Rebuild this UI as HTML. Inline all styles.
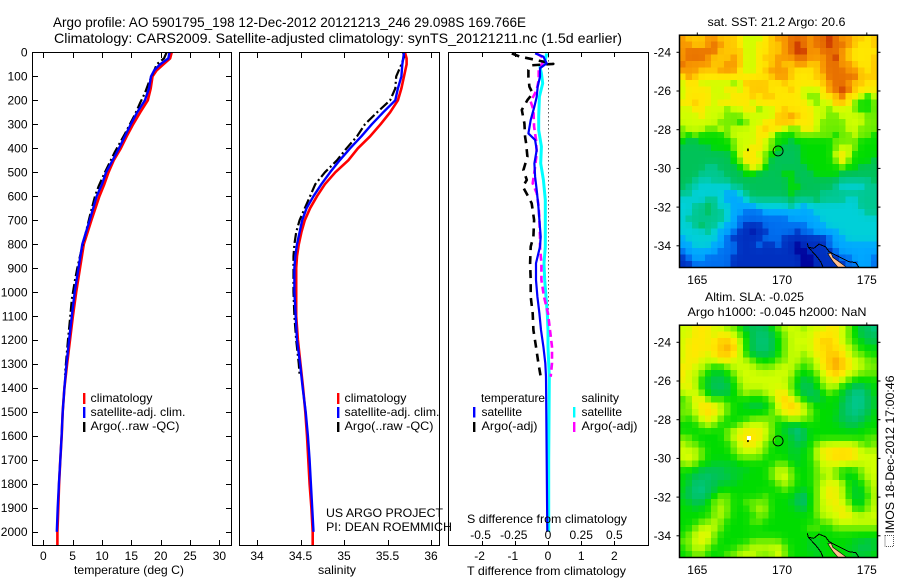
<!DOCTYPE html>
<html lang="en">
<head>
<meta charset="utf-8">
<title>Argo profile 5901795_198</title>
<style>
html,body{margin:0;padding:0;background:#fff;}
svg{display:block;}
text{font-family:"Liberation Sans",sans-serif;font-size:12px;fill:#000;}
.t{font-size:14px;}
</style>
</head>
<body>
<svg id="chart" xmlns="http://www.w3.org/2000/svg" width="900" height="580" viewBox="0 0 900 580">
  <rect x="0" y="0" width="900" height="580" fill="#fff"/>
  <text class="t" x="53" y="27" textLength="473" lengthAdjust="spacingAndGlyphs">Argo profile: AO 5901795_198 12-Dec-2012 20121213_246 29.098S 169.766E</text>
  <text class="t" x="54" y="43" textLength="568" lengthAdjust="spacingAndGlyphs">Climatology: CARS2009. Satellite-adjusted climatology: synTS_20121211.nc (1.5d earlier)</text>

  <g id="traces"></g>
  <g id="maps"></g>

  <rect x="32.5" y="52.5" width="199" height="493" fill="none" stroke="#000" stroke-width="1" shape-rendering="crispEdges"/>
  <rect x="239.5" y="52.5" width="200" height="493" fill="none" stroke="#000" stroke-width="1" shape-rendering="crispEdges"/>
  <rect x="448.5" y="52.5" width="200" height="493" fill="none" stroke="#000" stroke-width="1" shape-rendering="crispEdges"/>
  <g id="axes"></g>

  <text x="74" y="574" textLength="110" lengthAdjust="spacingAndGlyphs">temperature (deg C)</text>
  <text x="318" y="574" textLength="38" lengthAdjust="spacingAndGlyphs">salinity</text>
  <text x="467" y="575" textLength="159" lengthAdjust="spacingAndGlyphs">T difference from climatology</text>
  <text x="467" y="523" textLength="160" lengthAdjust="spacingAndGlyphs">S difference from climatology</text>

  <g>
    <rect x="83" y="393" width="2.4" height="11" fill="#f00"/>
    <rect x="83" y="407" width="2.4" height="11" fill="#00f"/>
    <rect x="83" y="422" width="2.4" height="10" fill="#000"/>
    <text x="90.5" y="402" textLength="62" lengthAdjust="spacingAndGlyphs">climatology</text>
    <text x="90.5" y="416" textLength="95" lengthAdjust="spacingAndGlyphs">satellite-adj. clim.</text>
    <text x="90.5" y="430" textLength="89" lengthAdjust="spacingAndGlyphs">Argo(..raw -QC)</text>
  </g>
  <g>
    <rect x="337" y="393" width="2.4" height="11" fill="#f00"/>
    <rect x="337" y="407" width="2.4" height="11" fill="#00f"/>
    <rect x="337" y="422" width="2.4" height="10" fill="#000"/>
    <text x="344.5" y="402" textLength="62" lengthAdjust="spacingAndGlyphs">climatology</text>
    <text x="344.5" y="416" textLength="95" lengthAdjust="spacingAndGlyphs">satellite-adj. clim.</text>
    <text x="344.5" y="430" textLength="89" lengthAdjust="spacingAndGlyphs">Argo(..raw -QC)</text>
  </g>
  <g>
    <text x="481" y="402" textLength="64" lengthAdjust="spacingAndGlyphs">temperature</text>
    <rect x="473" y="407" width="2.4" height="10.5" fill="#00f"/>
    <rect x="473" y="422" width="2.4" height="10" fill="#000"/>
    <text x="481.5" y="416" textLength="40.5" lengthAdjust="spacingAndGlyphs">satellite</text>
    <text x="481.5" y="430" textLength="56" lengthAdjust="spacingAndGlyphs">Argo(-adj)</text>
    <text x="581.5" y="402" textLength="37.5" lengthAdjust="spacingAndGlyphs">salinity</text>
    <rect x="573" y="407" width="2.4" height="10.5" fill="#0ff"/>
    <rect x="573" y="422" width="2.4" height="10" fill="#f0f"/>
    <text x="581.5" y="416" textLength="40.5" lengthAdjust="spacingAndGlyphs">satellite</text>
    <text x="581.5" y="430" textLength="56" lengthAdjust="spacingAndGlyphs">Argo(-adj)</text>
  </g>

  <text x="326" y="517" textLength="117" lengthAdjust="spacingAndGlyphs">US ARGO PROJECT</text>
  <text x="326" y="531" textLength="126" lengthAdjust="spacingAndGlyphs">PI: DEAN ROEMMICH</text>

  <text x="707.5" y="26" textLength="138" lengthAdjust="spacingAndGlyphs">sat. SST: 21.2 Argo: 20.6</text>
  <text x="705" y="301" textLength="99" lengthAdjust="spacingAndGlyphs">Altim. SLA: -0.025</text>
  <text x="687.5" y="316" textLength="179" lengthAdjust="spacingAndGlyphs">Argo h1000: -0.045 h2000: NaN</text>

  <rect x="885" y="535.5" width="8.5" height="11" fill="none" stroke="#555" stroke-width="1" stroke-dasharray="1 1"/>
  <text transform="translate(894,533.5) rotate(-90)" textLength="158" lengthAdjust="spacingAndGlyphs">IMOS 18-Dec-2012 17:00:46</text>
</svg>

<script>
// ---------- profile data ----------
const tempClimDepth = [0,25,50,75,100,150,200,250,300,350,400,450,500,550,600,700,800,900,1000,1100,1200,1300,1400,1500,1600,1700,1800,1900,2000,2055];
const tempClim = [21.87,21.6,20.45,19.3,18.6,18.3,17.8,16.5,15.3,14.2,13.2,12.0,11.1,10.4,9.55,8.2,6.9,6.25,5.6,5.05,4.55,4.05,3.6,3.3,3.13,2.9,2.7,2.55,2.4,2.4];
const tempSatDepth = [0,25,50,75,100,150,200,250,300,350,400,450,500,550,600,700,800,900,1000,1100,1200,1300,1400,1500,1600,1700,1800,1900,2000];
const tempSat = [21.5,21.3,19.9,18.9,18.35,18,17.3,16,14.9,13.9,12.9,11.8,10.7,10,9.1,7.9,6.65,6,5.35,4.85,4.4,3.95,3.6,3.3,3.12,2.9,2.65,2.45,2.3];
const tempArgoDepth = [0,25,50,70,100,130,170,210,260,340,415,500,560,600,680,750,850,900,950,1030,1100,1200,1300,1345];
const tempArgo = [21,20.56,19.3,19,18.45,17.9,17.3,16.5,15.6,13.9,12.2,10.5,9.4,8.8,7.95,7.25,6.25,5.8,5.4,4.85,4.6,4.2,3.85,3.7];

const salClimDepth = [0,25,50,100,150,200,250,300,350,400,450,500,550,600,650,700,750,800,850,900,1000,1100,1200,1300,1400,1500,1600,1700,1800,1900,2000,2055];
const salClim = [35.7,35.72,35.72,35.69,35.66,35.62,35.53,35.42,35.3,35.16,35.05,34.9,34.78,34.69,34.61,34.55,34.51,34.48,34.46,34.45,34.45,34.45,34.47,34.5,34.53,34.555,34.575,34.59,34.605,34.625,34.64,34.64];
const salSatDepth = [0,25,50,100,150,200,250,300,350,400,450,500,550,600,650,700,750,800,850,900,1000,1100,1200,1300,1400,1500,1600,1700,1800,1900,2000];
const salSat = [35.69,35.68,35.67,35.66,35.62,35.59,35.45,35.32,35.2,35.07,34.95,34.84,34.74,34.65,34.57,34.52,34.49,34.46,34.44,34.43,34.43,34.445,34.46,34.495,34.525,34.56,34.585,34.605,34.62,34.635,34.65];
const salArgoDepth = [0,20,50,100,150,200,250,300,350,400,450,500,550,600,650,700,750,800,850,900,1000,1100,1200,1300,1345];
const salArgo = [35.68,35.69,35.66,35.6,35.59,35.53,35.38,35.24,35.15,35.03,34.92,34.78,34.67,34.61,34.55,34.49,34.45,34.43,34.42,34.42,34.42,34.43,34.45,34.48,34.49];

const tDiffSatDepth = [4,18,46,66,101,143,185,226,282,338,365,407,463,518,574,644,699,769,810,880,950,1019,1089,1158,1228,1297,1353,1700,2000];
const tDiffSat = [-0.39,-0.14,-0.04,-0.24,-0.24,-0.31,-0.34,-0.41,-0.52,-0.59,-0.39,-0.34,-0.41,-0.39,-0.34,-0.29,-0.26,-0.22,-0.24,-0.36,-0.36,-0.32,-0.26,-0.21,-0.14,-0.08,-0.06,-0.04,-0.02];
const tDiffArgoDepth = [4,18,29,48,54,73,101,143,171,199,240,296,352,379,435,491,532,560,595,630,699,769,810,880,950,1019,1089,1158,1228,1297,1353];
const tDiffArgo = [-1.09,-0.84,-0.44,0.16,-0.49,-0.59,-0.59,-0.56,-0.46,-0.62,-0.79,-0.71,-0.69,-0.66,-0.62,-0.74,-0.64,-0.76,-0.62,-0.49,-0.42,-0.44,-0.52,-0.54,-0.52,-0.52,-0.46,-0.44,-0.36,-0.29,-0.22];
const sDiffSatDepth = [4,32,60,87,129,185,268,324,393,463,532,615,699,769,810,880,950,1019,1089,1158,1228,1297,1353,1700,2000];
const sDiffSat = [-0.01,-0.02,-0.06,-0.05,-0.04,-0.065,-0.07,-0.07,-0.05,-0.055,-0.035,-0.02,-0.02,-0.02,-0.02,-0.03,-0.025,-0.015,-0.005,0,0,0.005,0.01,0.005,0.005];
const sDiffArgoDepth = [4,25,38,73,115,157,205,240,310,365,421,490,546,587,643,699,769,810,880,950,1019,1089,1158,1228,1297,1353];
const sDiffArgo = [-0.085,-0.03,-0.035,-0.07,-0.07,-0.085,-0.13,-0.11,-0.105,-0.09,-0.085,-0.1,-0.115,-0.085,-0.07,-0.065,-0.06,-0.06,-0.05,-0.05,-0.03,0,0.015,0.03,0.03,0.02];

// ---------- tick labels ----------
const depthTicks = [0,100,200,300,400,500,600,700,800,900,1000,1100,1200,1300,1400,1500,1600,1700,1800,1900,2000];
const tempTicks = [0,5,10,15,20,25,30];
const salTicks = [34,34.5,35,35.5,36];
const tDiffTicks = [-2,-1,0,1,2];
const sDiffTicks = [-0.5,-0.25,0,0.25,0.5];
const sDiffTickLabels = ['-0.5','-0.25','0','0.25','0.5'];
const latTicks = [-24,-26,-28,-30,-32,-34];
const lonTicks = [165,170,175];

// ---------- map data ----------
const floatLon = 169.766;
const floatLat = -29.098;
const neighbourLon = 168;
const neighbourLat = -29;
const coastWestLon = [171.49,171.55,171.98,172.28,172.42];
const coastWestLat = [-33.87,-34.08,-34.48,-34.82,-35.11];
const coastNorthLon = [171.55,171.88,172.18,172.57,172.77,173.16,173.55,173.95,174.35,174.54];
const coastNorthLat = [-34.08,-34.13,-33.91,-34.05,-34.3,-34.48,-34.65,-34.82,-34.87,-35.11];
const landLon = [172.7,172.9,173.0,173.4,173.8,173.3,173.0,172.8];
const landLat = [-34.4,-34.38,-34.6,-34.85,-35.11,-35.11,-34.8,-34.55];

// colour levels (0 navy ... 14 red-brown), one row per grid line, north to south
const sstLevels = [
[12,11,11,11,12,12,11,11,11,10,9,9,9,10,11,12,12,13,13,13,12,13,13,14,13,12,12,11,11,10,11],
[12,12,11,11,12,13,12,11,11,10,9,9,10,10,11,11,12,13,14,13,12,13,13,14,13,13,12,11,10,10,11],
[12,13,13,13,13,13,11,11,11,11,9,9,10,10,11,11,12,13,14,14,12,12,13,13,13,12,11,10,10,10,10],
[12,13,13,13,12,11,11,11,12,11,9,9,10,11,11,12,12,12,13,13,12,12,12,13,14,12,11,10,10,10,11],
[13,12,12,12,12,11,11,12,12,11,9,9,10,10,11,12,11,11,12,12,11,11,12,13,13,12,12,11,10,10,11],
[12,12,12,11,11,11,12,12,12,10,9,9,10,11,12,12,12,11,10,10,10,11,12,13,13,13,12,12,11,10,11],
[10,12,11,10,10,10,10,10,10,10,10,10,10,10,11,12,12,11,10,10,10,11,11,13,13,13,13,13,11,11,11],
[9,10,10,9,9,9,9,9,8,9,11,11,11,11,10,10,11,10,10,10,10,10,11,12,13,13,12,11,11,10,10],
[9,10,10,10,10,9,9,10,10,9,10,11,11,11,10,10,10,11,10,9,9,9,10,12,13,14,13,11,10,10,10],
[9,10,10,10,10,9,9,9,10,10,10,11,10,11,11,10,10,10,10,9,8,8,10,10,11,13,10,10,9,7,9],
[10,10,11,10,10,9,10,10,10,10,10,9,10,10,10,10,10,10,10,10,9,8,9,9,11,11,10,8,7,7,8],
[9,9,10,10,9,9,9,8,9,9,10,10,8,9,9,10,11,10,10,10,10,9,9,8,9,9,9,8,7,7,8],
[9,9,9,10,9,9,9,8,8,8,9,9,9,9,9,11,11,12,11,10,10,9,9,8,8,9,9,9,9,8,8],
[9,9,9,9,9,9,8,8,8,7,8,9,9,10,10,11,11,11,10,10,10,9,8,8,8,8,9,9,9,8,8],
[8,9,9,9,8,8,9,8,9,9,9,9,10,11,10,10,9,8,8,10,10,9,8,8,8,8,9,9,8,8,8],
[8,7,8,7,7,7,7,8,9,9,9,9,10,10,9,7,7,7,8,8,8,8,8,8,7,8,8,9,8,8,7],
[7,6,6,7,7,7,7,7,8,9,9,9,10,9,8,7,7,6,7,7,7,7,7,7,8,8,8,8,7,7,7],
[6,6,6,6,6,7,7,7,8,9,9,10,10,9,8,7,6,6,6,7,7,7,7,7,8,9,9,8,7,7,7],
[6,6,6,6,6,6,6,6,7,9,10,10,9,8,7,6,6,6,6,7,7,7,7,7,9,10,9,7,7,7,7],
[6,6,6,6,6,6,6,6,7,8,10,10,10,8,6,6,6,6,6,7,7,7,7,7,8,10,8,7,7,7,6],
[6,6,6,6,5,5,6,6,6,7,8,10,9,7,6,6,6,6,6,6,7,7,7,7,7,8,7,7,6,6,6],
[6,6,6,5,5,5,5,6,6,6,7,7,6,6,6,6,7,7,6,6,6,7,7,7,7,6,6,6,6,6,6],
[6,6,5,4.5,4.5,5,5,5,6,6,6,6,6,6,6,6,6,7,6,6,6,6,6,6,6,5,5,5,5,5,6],
[6,5,4.5,4,4,4,4,4,5,5,6,6,6,6,6,6,6,7,7,6,6,6,6,6,5,4,4,4,4,5,5],
[5,5,4,4,4,4,4,3,3,4,5,6,6,6,6,6,6,7,6,6,6,6,5,5,5,5,5,5,5,5,5],
[4,4,4,4,5,5,4,3,3,3,4,5,5,5,5,5,5,6,5,5,5,6,5,5,5,5,4,4,5,5,5],
[4,4,5,5,6,5,4,4,3,3,3,3,4,4,4,4,4,5,4,3,4,4,4,4,4,4,4,4,5,5,5],
[4,4,5,5,6,5,5,4,3,3,2,2,2,3,3,3,3,3,3,3,3,4,4,4,4,4,4,4,4,5,5],
[4,5,5,5,5,5,5,4,3,2,2,2,2,2,2,2,2,3,3,3,3,3,4,4,4,4,4,4,4,4,4],
[4,4,5,6,5,5,4,3,3,2,1,1,1,2,2,2,2,2,2,2,3,3,3,4,4,4,4,4,4,4,4],
[4,4,4,4,5,4,3,3,2,1,1,0.5,1,1,2,2,2,2,1,2,2,3,3,3,3,4,4,4,4,4,4],
[3,4,4,4,4,4,3,2,1,1,1,1,1,2,2,2,1,1,1,1,1,1,1,2,3,3,4,4,4,4,4],
[3,3,4,4,4,3,3,2,2,1,1,1,2,1,1,2,1,1,0,1,1,1,1,2,3,3,3,3,3,3,3],
[2,3,3,3,3,3,2,2,2,1,1,1,1,1,1,1,1,1,0,0,1,1,1,1,2,3,3,3,3,3,3],
[1,2,3,3,2,2,2,2,1,1,1,1,1,1,1,1,1,1,1,0,0,1,1,1,1,2,2,3,3,3,2],
[1,1,2,2,2,2,2,2,1,1,1,1,1,1,1,1,1,1,1,0,0,1,1,1,1,1,2,2,3,3,2]
];
const slaLevels = [
[9,9,10,10,10,9,9,8,8,7,6,6,6,6,7,8,9,9,9,8,9,9,9,10,10,9,8,7,6,6,5],
[9,9,10,10,10,9,10,10,9,8,7,6,5.5,5.5,6,7,8,9,9,9,9,10,10,10,10,9,8,7,6,6,6],
[9,10,10,10,9.5,10,11,11,10,9,7,6,5.5,5.5,6,7,8,9,9,9,9,10,11,11,10,9,8,7,7,6,6],
[9,10,10,10,10,10,11,12,11,9,7,6,5.5,5.5,6,7,8,9,9,9,9,10,10,11,10,10,9,8,7,7,7],
[9,10,10,10,9,10,11,11,10,9,7,6,6,6,6,7,8,9,9,8,9,10,10,11,11,10,9,8,8,7,7],
[9,10,10,9,9,9,10,10,9,9,9,8,7,7,7,8,8,9,9,8,8,9,10,11,12,11,10,9,9,8,8],
[10,10,9,9,8,7,7,8,9,9,9,9,8,8,8,9,9,9,8,7,8,9,10,11,12,11,10,9,9,8,8],
[10,9,9,8,7,6.5,6.5,7,8,9,9,9,9,9,9,9,9,9,7,7,7,8,9,10,11,10,9,9,8,8,8],
[10,9,9,7,6.5,6,6,6.5,7,9,9,9,9,9,9,9,9,8,7,6,6.5,7,9,9,10,9,8,7,7,7,7],
[9,10,9,7,6.5,6,6,6,7,8,9,9,9,9,9,9,9,8,6.5,6,6,7,8,9,9,7,6.5,6,6,6.5,7],
[9,9,9,8,6.5,6,6,6,7,8,9,8,8,9,9,10,10,8,7,6,6,6,7,8,7,6.5,6,5,5,6,7],
[7,8,10,10,8,7,8,7,7,7,7,7,7,7,8,10,11,10,8,7,6,6,6.5,7,7,6.5,5.5,5,5,6,6.5],
[8,8,9,10,10.5,10,9,8,7,7,6.5,6,6,6.5,7,9,10,11,10.5,9,8,7,7,7,7,6,5.5,5,5,6,6.5],
[8,8,9,10,10.5,10,9,8,7,7,7,7,7,7,8,9,10,10,10,9,8,7,7,7,7,6,5.5,5,5.5,6,7],
[8,7,8,9,10,9,8,7,7,7,7,8,8,8,8,7,8,9,9,8,8,7,7,7,6.5,6,6,5.5,6,6.5,7],
[7,7,7,8,9,8,7,7,7,8,9,9,9,9,8,7,6.5,6,6,7,7,7,7,7,7,6.5,6,6,6.5,7,7],
[7,7,7,7,7,7,7,8,9,9.5,10,10,10,9,8,7,6.5,6,5,6,7,7,7,7,7,7,7,7,7,7,7],
[8,8,7,7,7,7,7,8,9,10,10,10,10,9,8,7,7,6.5,5.5,6,7,7,7,7,7,7,7,7,7,8,8],
[9,8,8,7,7,7,7,7,8,9,10,10,9,8,7,7,7,6.5,6,6.5,7,8,9,9,9,9,9,9,8,7,8],
[9,9,9,8,7,7,7,7,8,9,9,9,9,8,7,7,7,6.5,6.5,7,7,9,10,10,10.5,10.5,10.5,10,9,9,9],
[9,9.5,9,8,7,7,7,7,7,8,8,8,8,7,7,7,7,6.5,6.5,7,7,9,9.5,10,10.5,10.5,10.5,10,9,9,9],
[8,9,8,7,7,6.5,6.5,6.5,6.5,7,7,7,7,7,7,8,8,7,6.5,7,7,8,9,9,9.5,9,9,9,9,9,9],
[7,7,6.5,6,6,6,6,6.5,6.5,6.5,6.5,7,7,7,8,9,9,8,7,7,7,8,9,9,8,7,7,7,8,9,9],
[7,6.5,6,6,5.5,6,6,6,6.5,6.5,7,7,7,7,8,9,9.5,8,7,7,7,8,8,9,8,7,6.5,7,8,9,9],
[7,6.5,5.5,5.5,6,6,6.5,6.5,6.5,7,7,7,7,7,7,8,9,8,7,7,7,8,9,9.5,9.5,9,7,6.5,7,8,9],
[7,6,5.5,5,6,6,7,7,7,7,7,7,7,7,7,7,8,7,7,6.5,7,8,9,10,9.5,9,7,6.5,6.5,8,9],
[6.5,6,5.5,5.5,6,7,8,8,7,7,7,7,7,8,7,7,7,7,6,5.5,7,8,9,10,9.5,9,7,6.5,6.5,7,9],
[7,6.5,6,6,7,8,8.5,8,7,7,8,8,8,8,7,7,7,6.5,6,5.5,7,8,9,9.5,10,9,8,6.5,6.5,8,9],
[7,7,6.5,7,7,8,9,8,7,7,7,8,9,8.5,7,7,7,7,6.5,6,7,8,9,9,9.5,10,9,7,7,8,9],
[7,7,7,7,7,8,9,8,7,7,7,7,8,8,7,7,7,7,7,7,7,8,9,9,9,10,10,9,9,9,9],
[7,7,7,8,8,9,8,7,7,7,7,8,8,7,7,7,7,7,7,7,7,7,8,8,9,9,9,9,9,9,9],
[7,7,8,9,9,9,8,7,7,7,7,7,7,7,7,7,7,7,7,7,8,8,7,7,8,8,8,8,8,8,8],
[7,8,9,9.5,9.5,8,7,7,7,7,7,7,7,7,7,7,7,7,7,7,7,7,7,7,7,7,7,7,7,7,7],
[8,8,9,9.5,9,8,7,7,7,7,7,8,8,8,8,8,7,7,7,7,6.5,6.5,7,7,7,7,7,6.5,6.5,6,6.5],
[7,8,9,9,8,7,7,7,7,8,8,9,9,9,9,9.5,8,7,7,7,6.5,6.5,7,7,7,7,6.5,6.5,6,6,6.5],
[7,7,8,8,7,7,7,8,8,9,9,9,8,8,8,9.5,8,7,7,7,7,6.5,7,7,7,7,7,6.5,6.5,6.5,7]
];

// ---------- scales ----------
const yDepth = d => 52.4 + d * 0.2397;
const xTemp = t => 43.3 + t * 5.87;
const xSal = s => 257 + (s - 34) * 87;
const xTDiff = v => 548 + v * 33.2;
const xSDiff = v => 548 + v * 132.8;
const mapX = lon => 697.3 + (lon - 165) * 16.95;
const mapY = (lat, top) => top + 17.3 + (-24 - lat) * 19.35;

const NS = 'http://www.w3.org/2000/svg';
const paletteStops = ['#00009a','#0030c0','#0070f0','#00a8ff','#00d0d8','#00c890','#00c258','#00dc00','#70ee00','#d0ff00','#ffe800','#ffc800','#f89800','#e87000','#c83000'];
function rgb(hex){return [1,3,5].map(i=>parseInt(hex.substr(i,2),16));}
function levelColor(v){
  const i=Math.max(0,Math.min(13,Math.floor(v)));
  const f=Math.max(0,Math.min(1,v-i));
  const a=rgb(paletteStops[i]),b=rgb(paletteStops[i+1]);
  return 'rgb('+a.map((c,k)=>Math.round(c+(b[k]-c)*f)).join(',')+')';
}
function smoothGrid(levels,w){
  return levels.map((row,r)=>row.map((v,c)=>{
    let s=0,n=0;
    for(let dr=-1;dr<=1;dr++){
      for(let dc=-1;dc<=1;dc++){
        const rr=levels[r+dr];
        if(rr&&rr[c+dc]!==undefined){
          const k=(dr===0?2:1)*(dc===0?2:1);
          s+=rr[c+dc]*k;n+=k;
        }
      }
    }
    return v*(1-w)+w*s/n;
  }));
}
function mk(tag,attrs,parent,txt){
  const el=document.createElementNS(NS,tag);
  for(const k in attrs) el.setAttribute(k,attrs[k]);
  if(txt!==undefined) el.textContent=txt;
  parent.appendChild(el);
  return el;
}
const traces=document.getElementById('traces');
const axes=document.getElementById('axes');
const maps=document.getElementById('maps');

function series(depths,values,xFn,color,width,dash,name){
  const pts=depths.map((d,i)=>xFn(values[i]).toFixed(1)+','+yDepth(d).toFixed(1)).join(' ');
  const el=mk('polyline',{points:pts,fill:'none',stroke:color,'stroke-width':width,'stroke-dasharray':dash||'none','stroke-linejoin':'round'},traces);
  
  
}

// zero line in the difference panel
const zeroLine=mk('line',{x1:xTDiff(0)+0.5,x2:xTDiff(0)+0.5,y1:yDepth(0),y2:yDepth(2000),stroke:'#000','stroke-width':1,'stroke-dasharray':'1 3'},traces);



series(tempClimDepth,tempClim,xTemp,'#f00',2.6,'','temperature-climatology-line');
series(tempArgoDepth,tempArgo,xTemp,'#000',2.2,'10 3 2 3','temperature-argo-line');
series(tempSatDepth,tempSat,xTemp,'#00f',2.4,'','temperature-satellite-line');
series(salClimDepth,salClim,xSal,'#f00',2.6,'','salinity-climatology-line');
series(salArgoDepth,salArgo,xSal,'#000',2.2,'10 3 2 3','salinity-argo-line');
series(salSatDepth,salSat,xSal,'#00f',2.4,'','salinity-satellite-line');
series(sDiffSatDepth,sDiffSat,xSDiff,'#0ff',3,'','salinity-satellite-difference-line');
series(sDiffArgoDepth,sDiffArgo,xSDiff,'#f0f',2.6,'7 4','salinity-argo-difference-line');
series(tDiffArgoDepth,tDiffArgo,xTDiff,'#000',2.6,'8 6','temperature-argo-difference-line');
series(tDiffSatDepth,tDiffSat,xTDiff,'#00f',2.2,'','temperature-satellite-difference-line');

// axes
function tick(x1,y1,x2,y2,name){
  const el=mk('line',{x1:x1,y1:y1,x2:x2,y2:y2,stroke:'#000','stroke-width':1,'shape-rendering':'crispEdges'},axes);
  
  
}
function label(x,y,anchor,str,name){
  const el=mk('text',{x:x,y:y,'text-anchor':anchor},axes,str);
  
  
  return el;
}
depthTicks.forEach(d=>{
  const y=Math.round(yDepth(d))+0.5;
  if(d>0){
    tick(32,y,38,y,'depth-tick');
    tick(226,y,231,y,'depth-tick');
  }
  label(27.5,yDepth(d)+4.2,'end',String(d),'depth-tick-label');
});
tempTicks.forEach(t=>{
  const x=Math.round(xTemp(t))+0.5;
  tick(x,53,x,58,'temperature-tick');
  tick(x,540,x,545,'temperature-tick');
  label(xTemp(t),560,'middle',String(t),'temperature-tick-label');
});
salTicks.forEach(s=>{
  const x=Math.round(xSal(s))+0.5;
  tick(x,53,x,58,'salinity-tick');
  tick(x,540,x,545,'salinity-tick');
  label(xSal(s),560,'middle',String(s),'salinity-tick-label');
});
tDiffTicks.forEach(t=>{
  const x=Math.round(xTDiff(t))+0.5;
  tick(x,53,x,57,'t-difference-tick');
  tick(x,541,x,545,'t-difference-tick');
  label(xTDiff(t)-(t<0?2:0),560,'middle',String(t),'t-difference-tick-label');
});
sDiffTicks.forEach((s,i)=>{
  label(xSDiff(s)-(s<0?1:0),539,'middle',sDiffTickLabels[i],'s-difference-tick-label');
});

// maps
const GRID_X=679.3, GRID_W=198/31;
function drawMap(levels,smoothing,top,name){
  const g=mk('g',{},maps);
  
  
  const rowH=232.3/levels.length;
  const shown=smoothGrid(levels,smoothing);
  shown.forEach((row,r)=>{
    row.forEach((v,c)=>{
      const cell=mk('rect',{x:(GRID_X+c*GRID_W).toFixed(2),y:(top+r*rowH).toFixed(2),width:(GRID_W+0.4).toFixed(2),height:(rowH+0.4).toFixed(2),fill:levelColor(v),'shape-rendering':'crispEdges'},g);
      
      
    });
  });
  const land=mk('polygon',{points:landLon.map((l,i)=>mapX(l).toFixed(1)+','+mapY(landLat[i],top).toFixed(1)).join(' '),fill:'#ffc090',stroke:'#000','stroke-width':0.6},g);
  
  
  const west=mk('polyline',{points:coastWestLon.map((l,i)=>mapX(l).toFixed(1)+','+mapY(coastWestLat[i],top).toFixed(1)).join(' '),fill:'none',stroke:'#000','stroke-width':1,'shape-rendering':'crispEdges'},g);
  
  
  const north=mk('polyline',{points:coastNorthLon.map((l,i)=>mapX(l).toFixed(1)+','+mapY(coastNorthLat[i],top).toFixed(1)).join(' '),fill:'none',stroke:'#000','stroke-width':1,'shape-rendering':'crispEdges'},g);
  
  
  const circle=mk('circle',{cx:mapX(floatLon),cy:mapY(floatLat,top),r:5,fill:'none',stroke:'#000','stroke-width':0.9},g);
  
  
  const frame=mk('rect',{x:679.5,y:top+0.2,width:198,height:232.3,fill:'none',stroke:'#000','stroke-width':1.5},g);
  
  
  latTicks.forEach(lat=>{
    const y=mapY(lat,top);
    const a=mk('line',{x1:676.5,x2:679,y1:y,y2:y,stroke:'#000','stroke-width':1},g);
    
    
    const b=mk('line',{x1:878,x2:880.5,y1:y,y2:y,stroke:'#000','stroke-width':1},g);
    
    
    const t=mk('text',{x:671,y:y+4.2,'text-anchor':'end'},g,String(lat));
    
    
  });
  lonTicks.forEach(lon=>{
    const x=mapX(lon);
    const a=mk('line',{x1:x,x2:x,y1:top-2.5,y2:top,stroke:'#000','stroke-width':1},g);
    
    
    const t=mk('text',{x:x,y:top+249,'text-anchor':'middle'},g,String(lon));
    
    
  });
}
drawMap(sstLevels,0.45,35,'sst-map');
drawMap(slaLevels,0.8,325,'sla-map');

const speck1=mk('rect',{x:mapX(neighbourLon)-1,y:mapY(neighbourLat,35)-0.5,width:1.6,height:2.6,fill:'#000'},maps);


const speck2=mk('rect',{x:mapX(neighbourLon)-1.2,y:mapY(neighbourLat,325)-3,width:4,height:4,fill:'#fff'},maps);


const speck3=mk('rect',{x:mapX(neighbourLon)-1,y:mapY(neighbourLat,325)+1,width:1.6,height:2,fill:'#000'},maps);


</script>
</body>
</html>
